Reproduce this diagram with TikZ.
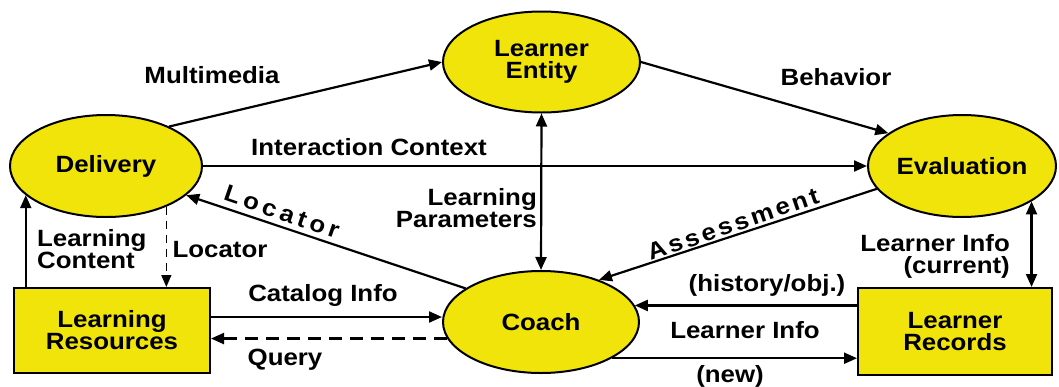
\documentclass[tikz,border=0pt]{standalone}
\usepackage{fontspec}
\setmainfont{Liberation Sans}[FakeStretch=1.1]
\usetikzlibrary{arrows.meta,shapes.geometric}
\definecolor{fillY}{RGB}{240,228,10}
\begin{document}
\begin{tikzpicture}[x=1pt,y=-1pt,
  font=\fontsize{23.5}{22}\selectfont\bfseries,
  ell/.style={ellipse, draw=black, line width=2pt, fill=fillY, inner sep=0pt, align=center},
  box/.style={rectangle, draw=black, line width=2pt, fill=fillY, inner sep=0pt, align=center},
  arr/.style={line width=2.2pt, -{Triangle[length=13pt,width=11pt]}},
  dbl/.style={line width=2.2pt, {Triangle[length=13pt,width=11pt]}-{Triangle[length=13pt,width=11pt]}},
  dsh/.style={arr, dash pattern=on 13pt off 8pt},
  vdsh/.style={line width=1.4pt, -{Triangle[length=12pt,width=10pt]}, dash pattern=on 8pt off 6pt},
  lbl/.style={inner sep=0pt, align=center}]
\useasboundingbox (0,0) rectangle (1059,386);
% nodes
\node[ell, minimum width=197pt, minimum height=101pt] (LE) at (541.5,62) {Learner\\Entity};
\node[ell, minimum width=192pt, minimum height=102pt] (Del) at (106,166) {Delivery};
\node[ell, minimum width=188pt, minimum height=102pt] (Ev) at (962,166) {Evaluation};
\node[ell, minimum width=196pt, minimum height=102pt] (Co) at (541,322) {Coach};
\node[box, minimum width=196pt, minimum height=85pt] (LR) at (112,330.5) {Learning\\Resources};
\node[box, minimum width=194pt, minimum height=87pt] (Rec) at (955,331.5) {Learner\\Records};
% connectors
\draw[arr] (Del.32) -- (LE.west);
\draw[arr] (LE.east) -- (Ev.156);
\draw[arr] (Del.east) -- (Ev.west);
\draw[dbl] (LE.south) -- (Co.north);
\draw[arr] (Co.156) -- (Del.-20);
\draw[arr] (Ev.195) -- (Co.36);
\draw[arr] (LR.north west -| Del.200) -- (Del.200);
\draw[vdsh] (Del.-34) -- (Del.-34 |- LR.north);
\draw[arr] ([yshift=13.5pt]LR.east) -- ([yshift=13.5pt]LR.east -| Co.west);
\draw[dsh] (Co.190) -- (Co.190 -| LR.east);
\draw[arr] (Co.10 -| Rec.west) -- (Co.10);
\draw[arr] (Co.-27) -- (Co.-27 -| Rec.west);
\draw[dbl] (Ev.-27) -- (Ev.-27 |- Rec.north);
% labels
\node[lbl] (tMM) at (212,75) {Multimedia};
\node[lbl] (tBe) at (836,77) {Behavior};
\node[lbl] (tIC) at (369,147) {Interaction Context};
\node[lbl, anchor=east, align=right] (tLP) at (537,208) {Learning\\Parameters};
\node[lbl, rotate=-19] (tLoc1) at (282,212) {\addfontfeature{LetterSpace=18}Locator};
\node[lbl, rotate=19] (tAs) at (733,224) {\addfontfeature{LetterSpace=13}Assessment};
\node[lbl, anchor=west, align=left] (tLC) at (37,249) {Learning\\Content};
\node[lbl] (tLoc2) at (220,250) {Locator};
\node[lbl] (tCI) at (323,295) {Catalog Info};
\node[lbl] (tQ) at (285,360) {Query};
\node[lbl] (tHO) at (767,285) {(history/obj.)};
\node[lbl] (tLI) at (745,330) {Learner Info};
\node[lbl] (tNew) at (730,376) {(new)};
\node[lbl, anchor=east, align=right] (tLIc) at (1010,256) {Learner Info\\(current)};
\end{tikzpicture}
\end{document}
